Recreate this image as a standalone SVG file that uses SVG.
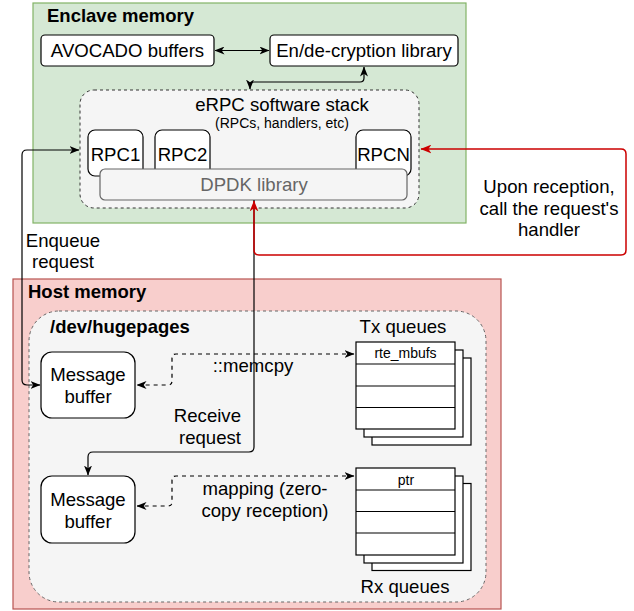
<svg xmlns="http://www.w3.org/2000/svg" width="634" height="611" viewBox="0 0 634 611">
<defs>
<style>
text{font-family:"Liberation Sans",Arial,sans-serif;fill:#000}
.t{font-size:18.6px}
.s{font-size:14px}
.b{font-size:18.5px;font-weight:bold}
.c{text-anchor:middle}
.box{fill:#fff;stroke:#000;stroke-width:1.2}
.ln{fill:none;stroke:#000;stroke-width:1.2}
.dl{fill:none;stroke:#000;stroke-width:1.2;stroke-dasharray:4 4}
.rl{fill:none;stroke:#cc0000;stroke-width:1.5}
</style>
<marker id="a" viewBox="0 0 10 8" refX="9.5" refY="4" markerWidth="10" markerHeight="8" markerUnits="userSpaceOnUse" orient="auto-start-reverse"><path d="M0,0 L10,4 L0,8 L2.8,4 Z" fill="#000"/></marker>
<marker id="r" viewBox="0 0 10 8" refX="9.5" refY="4" markerWidth="11" markerHeight="9" markerUnits="userSpaceOnUse" orient="auto-start-reverse"><path d="M0,0 L10,4 L0,8 L2.8,4 Z" fill="#cc0000"/></marker>
</defs>

<g id="enclave">
<rect x="33" y="3" width="433" height="220" fill="#d5e8d4" stroke="#82b366" stroke-width="1.2"/>
<text class="b" x="47" y="22">Enclave memory</text>
</g>
<g id="avocado">
<rect class="box" x="41" y="35" width="173" height="31" rx="4"/>
<text class="t c" x="127.5" y="57">AVOCADO buffers</text>
</g>
<g id="crypto">
<rect class="box" x="270" y="35" width="188" height="31" rx="4"/>
<text class="t c" x="364" y="57">En/de-cryption library</text>
</g>
<g id="erpc">
<rect x="80" y="90" width="339" height="118" rx="14" fill="#f5f5f5" stroke="#333" stroke-width="1" stroke-dasharray="3 3"/>
<text class="t c" x="282" y="111">eRPC software stack</text>
<text class="s c" x="282" y="128">(RPCs, handlers, etc)</text>
</g>
<g id="rpc1">
<rect class="box" x="88" y="130" width="55" height="46" rx="7"/>
<text class="t c" x="115.5" y="161">RPC1</text>
</g>
<g id="rpc2">
<rect class="box" x="155" y="130" width="55" height="46" rx="7"/>
<text class="t c" x="182.5" y="161">RPC2</text>
</g>
<g id="rpcn">
<rect class="box" x="356" y="130" width="55" height="46" rx="7"/>
<text class="t c" x="383.5" y="161">RPCN</text>
</g>
<g id="dpdk">
<rect x="100" y="169" width="307" height="31" rx="5" fill="#f5f5f5" stroke="#666" stroke-width="1.2"/>
<text class="t c" x="254" y="191" style="fill:#666">DPDK library</text>
</g>

<g id="host">
<rect x="13" y="279" width="488" height="330" fill="#f8cecc" stroke="#b85450" stroke-width="1.2"/>
<text class="b" x="28" y="298">Host memory</text>
</g>
<g id="hugepages">
<rect x="29" y="311" width="457" height="291" rx="30" fill="#f5f5f5" stroke="#666" stroke-width="1" stroke-dasharray="3 3"/>
<text class="b" x="50" y="333">/dev/hugepages</text>
</g>
<g id="msgbuf1">
<rect class="box" x="41" y="352" width="94" height="66" rx="11"/>
<text class="t c" x="88" y="381">Message</text>
<text class="t c" x="88" y="403">buffer</text>
</g>
<g id="msgbuf2">
<rect class="box" x="41" y="476" width="94" height="67" rx="11"/>
<text class="t c" x="88" y="506">Message</text>
<text class="t c" x="88" y="527.5">buffer</text>
</g>
<g id="txqueues">
<text class="t c" x="403" y="333">Tx queues</text>
<rect class="box" x="372" y="358" width="99" height="87"/>
<rect class="box" x="364" y="350" width="99" height="87"/>
<rect class="box" x="356" y="342" width="99" height="87"/>
<path class="ln" d="M356,364 H455 M356,386 H455 M356,407.5 H455"/>
<text class="s c" x="405.5" y="357.5">rte_mbufs</text>
</g>
<g id="rxqueues">
<rect class="box" x="372" y="483.5" width="99" height="87"/>
<rect class="box" x="364" y="476" width="99" height="87"/>
<rect class="box" x="356" y="468" width="99" height="87"/>
<path class="ln" d="M356,490 H455 M356,511.5 H455 M356,533 H455"/>
<text class="s c" x="406" y="484.5">ptr</text>
<text class="t c" x="405" y="593">Rx queues</text>
</g>

<g id="connectors">
<path class="ln" d="M215,50.5 L269,50.5" marker-start="url(#a)" marker-end="url(#a)"/>
<path class="ln" d="M250,89 L250,86 Q250,82 254,82 L360,82 Q364,82 364,78 L364,67" marker-start="url(#a)" marker-end="url(#a)"/>
<path class="ln" d="M79,150 L27,150 Q22,150 22,155 L22,380 Q22,385 27,385 L40,385" marker-start="url(#a)" marker-end="url(#a)"/>
<path class="ln" d="M254,200 L254,447 Q254,452 249,452 L93,452 Q88,452 88,457 L88,475" marker-end="url(#a)"/>
<path class="dl" d="M354,354 L176,354 Q172,354 172,358 L172,381 Q172,385 168,385 L137,385" marker-start="url(#a)" marker-end="url(#a)"/>
<path class="dl" d="M354,476 L176,476 Q172,476 172,480 L172,502 Q172,506 168,506 L137,506" marker-start="url(#a)" marker-end="url(#a)"/>
<path class="rl" d="M254,201 L254,250 Q254,255 259,255 L621,255 Q626,255 626,250 L626,154 Q626,149 621,149 L421,149" marker-start="url(#r)" marker-end="url(#r)"/>
<text class="t c" x="63" y="247">Enqueue</text>
<text class="t c" x="63" y="268">request</text>
<text class="t" x="241" y="422" text-anchor="end">Receive</text>
<text class="t" x="241" y="443.5" text-anchor="end">request</text>
<text class="t c" x="253" y="372">::memcpy</text>
<text class="t c" x="265" y="495">mapping (zero-</text>
<text class="t c" x="265" y="517">copy reception)</text>
<text class="t c" x="549" y="193">Upon reception,</text>
<text class="t c" x="549" y="214.5">call the request's</text>
<text class="t c" x="549" y="236">handler</text>
</g>
</svg>
